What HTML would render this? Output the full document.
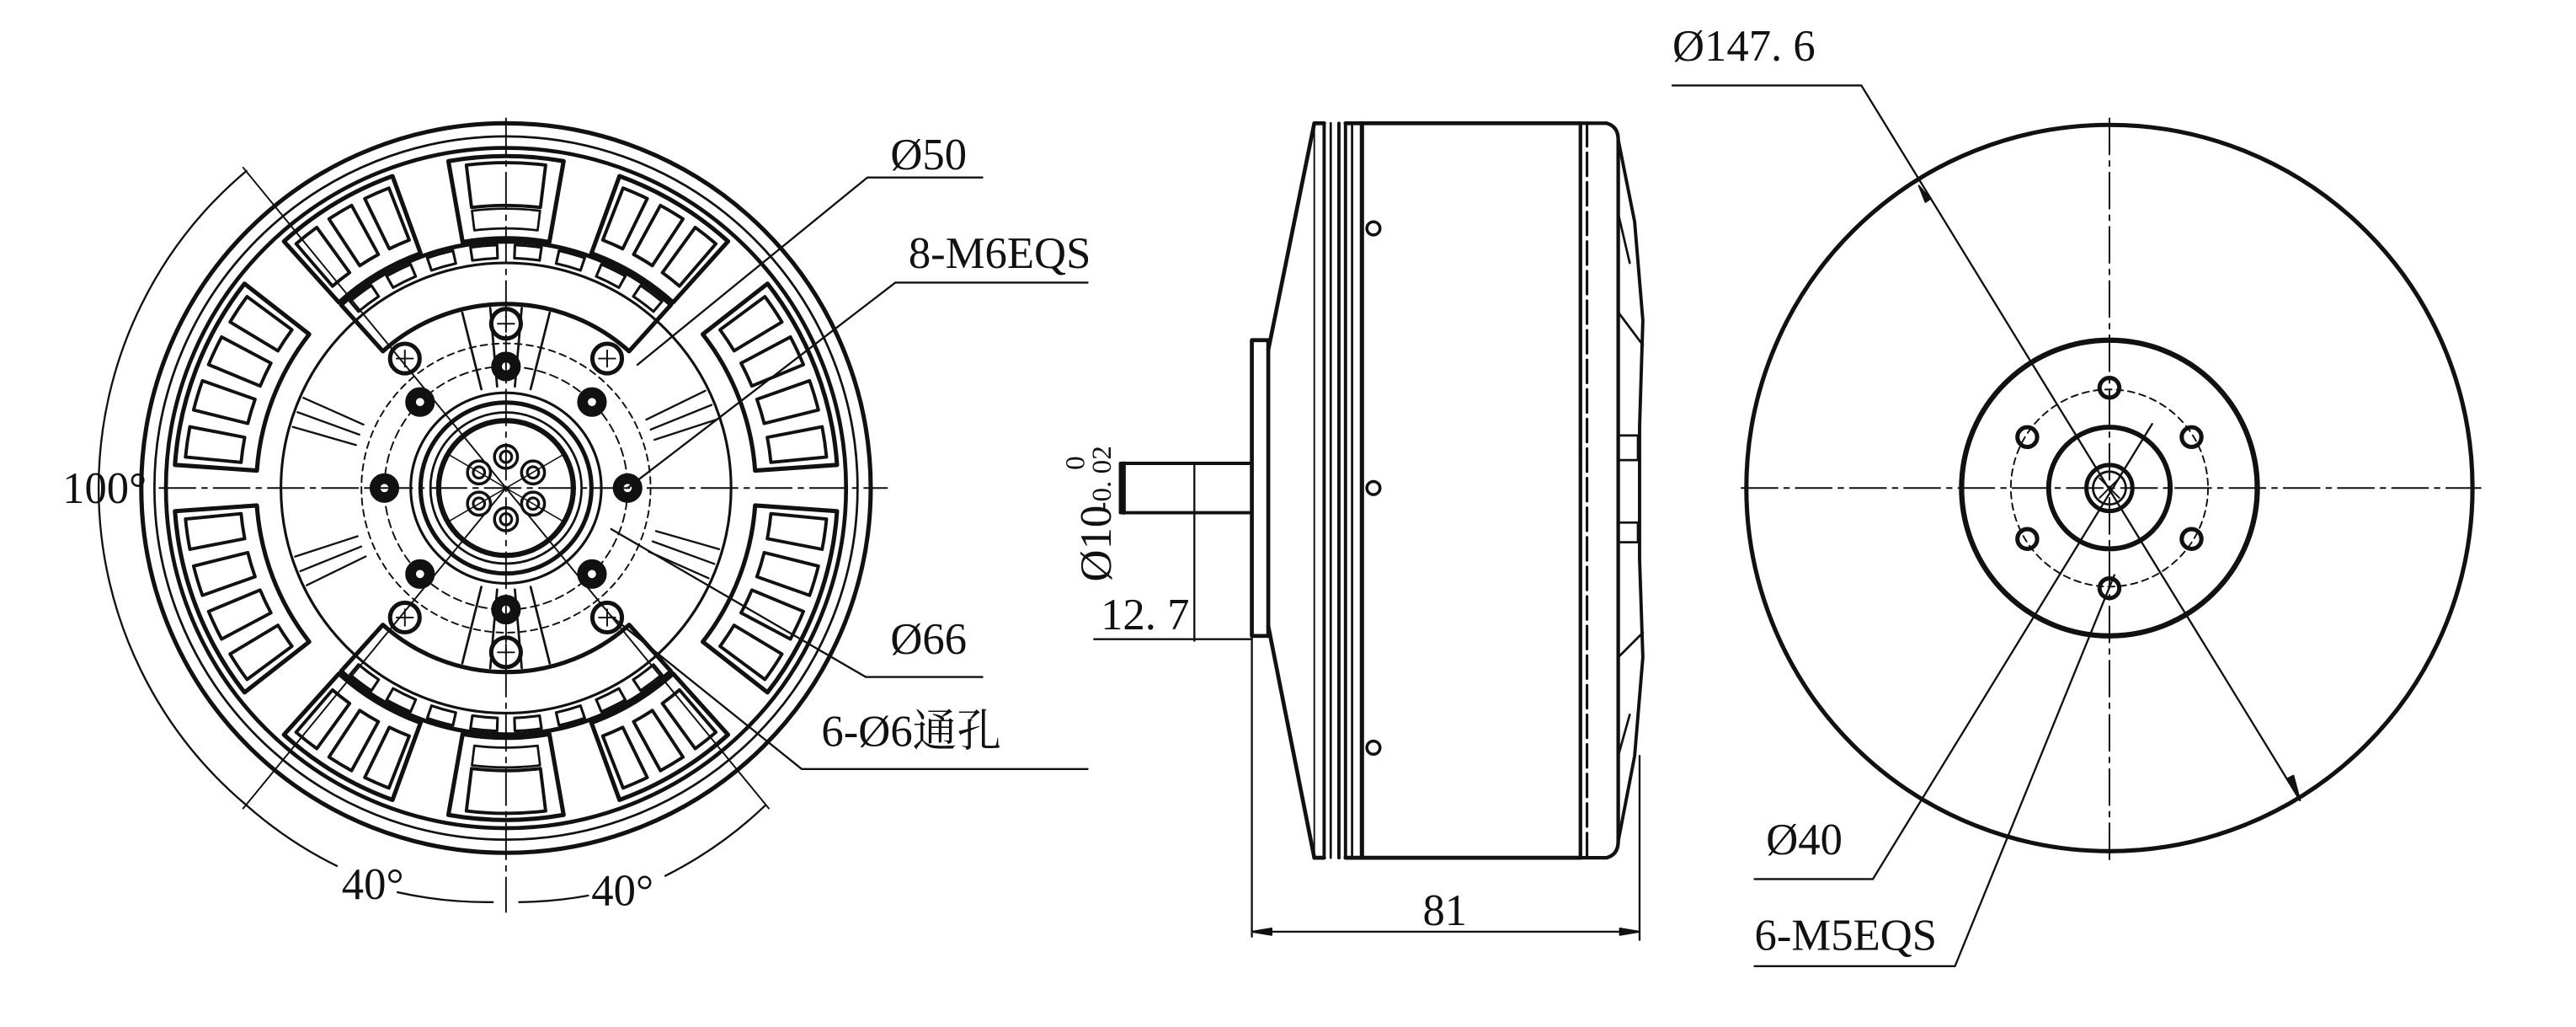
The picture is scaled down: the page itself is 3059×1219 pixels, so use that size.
<!DOCTYPE html>
<html><head><meta charset="utf-8"><style>
html,body{margin:0;padding:0;background:#fff}
svg{display:block}
text{font-family:"Liberation Serif","Noto Serif CJK SC","Noto Sans CJK SC",serif;fill:#111}
</style></head><body>
<svg id="s" width="3059" height="1219" viewBox="0 0 1568 625" preserveAspectRatio="none" xmlns="http://www.w3.org/2000/svg">
<g fill="none" stroke="#111" stroke-linecap="round" stroke-linejoin="round">
<!-- LEFT VIEW -->
<circle cx="308" cy="297" r="222" stroke-width="2.6"/>
<circle cx="308" cy="297" r="214" stroke-width="1.4"/>
<circle cx="308" cy="297" r="207" stroke-width="2.4"/>
<circle cx="308" cy="297" r="137" stroke-width="1.6"/>
<circle cx="308" cy="297" r="88" stroke-width="1" stroke-dasharray="4 3"/>
<circle cx="308" cy="297" r="74" stroke-width="1" stroke-dasharray="5 3"/>
<g id="lv"></g>
<!-- hub -->
<circle cx="308" cy="297" r="58" stroke-width="1.6"/>
<circle cx="308" cy="297" r="52" stroke-width="2.6"/>
<circle cx="308" cy="297" r="46" stroke-width="1.4"/>
<circle cx="308" cy="297" r="41" stroke-width="3.2"/>
<line x1="272" y1="276" x2="344" y2="318" stroke-width="0.8"/>
<line x1="272" y1="318" x2="344" y2="276" stroke-width="0.8"/>
<!-- centerlines -->
<line x1="97" y1="297" x2="540" y2="297" stroke-width="1" stroke-dasharray="22 4 3 4"/>
<line x1="308" y1="72" x2="308" y2="555" stroke-width="1" stroke-dasharray="22 4 3 4"/>
<!-- angle dims -->
<line x1="308" y1="297" x2="148" y2="102" stroke-width="1"/>
<line x1="308" y1="297" x2="148" y2="492" stroke-width="1"/>
<line x1="308" y1="297" x2="468" y2="492" stroke-width="1"/>
<path d="M150,104 A252,252 0 0 0 150,490" stroke-width="1.2"/>
<path d="M150,490 A252,252 0 0 0 205,527" stroke-width="1.2"/>
<path d="M242,543 A252,252 0 0 0 300,549" stroke-width="1.2"/>
<path d="M316,549 A252,252 0 0 0 358,545" stroke-width="1.2"/>
<path d="M405,533 A252,252 0 0 0 466,490" stroke-width="1.2"/>
<!-- leaders -->
<polyline points="388,222 528,108 598,108" stroke-width="1.2"/>
<polyline points="382,297 545,172 662,172" stroke-width="1.2"/>
<polyline points="372,322 527,412 598,412" stroke-width="1.2"/>
<polyline points="372,375 488,468 662,468" stroke-width="1.2"/>

<!-- SIDE VIEW -->
<rect x="682" y="282" width="80" height="30" stroke-width="2"/>
<line x1="727" y1="282" x2="727" y2="390" stroke-width="1.2"/>
<line x1="666" y1="389" x2="762" y2="389" stroke-width="1.2"/>
<line x1="684" y1="282" x2="684" y2="312" stroke-width="2.5"/>
<rect x="762" y="207" width="10" height="180" stroke-width="2.4"/>
<line x1="762" y1="387" x2="762" y2="570" stroke-width="1.2"/>
<polyline points="772,213 800,75 806,75" stroke-width="2.4"/>
<polyline points="772,381 800,522 806,522" stroke-width="2.4"/>
<line x1="800" y1="75" x2="800" y2="522" stroke-width="1"/>
<line x1="806" y1="75" x2="806" y2="522" stroke-width="2"/>
<line x1="810" y1="75" x2="810" y2="522" stroke-width="1.4"/>
<line x1="815" y1="75" x2="815" y2="522" stroke-width="2"/>
<line x1="819" y1="75" x2="819" y2="522" stroke-width="2"/>
<line x1="823" y1="75" x2="823" y2="522" stroke-width="1.4"/>
<line x1="829" y1="75" x2="829" y2="522" stroke-width="2.6"/>
<line x1="819" y1="75" x2="962" y2="75" stroke-width="2.4"/>
<line x1="819" y1="522" x2="962" y2="522" stroke-width="2.4"/>
<line x1="962" y1="75" x2="962" y2="522" stroke-width="2.2"/>
<line x1="966" y1="75" x2="966" y2="522" stroke-width="1.6" stroke-dasharray="14 4"/>
<path d="M962,75 L978,75 Q985,77 985,85 L985,512 Q985,520 978,522 L962,522" stroke-width="2.2"/>
<path d="M985,85 L995,135 L1000,195 L998,260 L998,340 L1000,400 L995,460 L985,512" stroke-width="2"/>
<path d="M985,130 L992,160 M985,190 L1000,210 M985,265 L997,265 L997,280 L985,280 M985,318 L997,318 L997,330 L985,330 M985,400 L1000,385 M985,460 L992,435" stroke-width="1.4"/>
<g fill="#fff" stroke-width="1.8"><circle cx="836" cy="139" r="4"/><circle cx="836" cy="297" r="4"/><circle cx="836" cy="455" r="4"/></g>
<line x1="762" y1="567" x2="998" y2="567" stroke-width="1.2"/>
<line x1="998" y1="460" x2="998" y2="572" stroke-width="1.2"/>
<polygon points="762,567 774,565 774,569" fill="#111" stroke-width="1"/>
<polygon points="998,567 986,565 986,569" fill="#111" stroke-width="1"/>

<!-- RIGHT VIEW -->
<circle cx="1284" cy="297" r="221" stroke-width="2.6"/>
<circle cx="1284" cy="297" r="90" stroke-width="3.2"/>
<circle cx="1284" cy="297" r="37" stroke-width="3"/>
<circle cx="1284" cy="297" r="60" stroke-width="1" stroke-dasharray="4 3"/>
<circle cx="1284" cy="297" r="14" stroke-width="2.6"/>
<circle cx="1284" cy="297" r="10" stroke-width="1.4"/>
<line x1="1278" y1="291" x2="1290" y2="303" stroke-width="1"/>
<line x1="1278" y1="303" x2="1290" y2="291" stroke-width="1"/>
<g stroke-width="2.6"><circle cx="1284" cy="236" r="6"/><circle cx="1334" cy="266" r="6"/><circle cx="1334" cy="328" r="6"/><circle cx="1284" cy="358" r="6"/><circle cx="1234" cy="328" r="6"/><circle cx="1234" cy="266" r="6"/></g>
<line x1="1060" y1="297" x2="1510" y2="297" stroke-width="1" stroke-dasharray="22 4 3 4"/>
<line x1="1284" y1="72" x2="1284" y2="525" stroke-width="1" stroke-dasharray="22 4 3 4"/>
<polyline points="1018,52 1133,52 1400,487" stroke-width="1.2"/>
<polygon points="1400,487 1392,474 1396,472" fill="#111" stroke-width="1"/>
<polygon points="1168,113 1172,123 1175,121" fill="#111" stroke-width="1"/>
<polyline points="1068,535 1140,535 1310,258" stroke-width="1.2"/>
<polyline points="1068,588 1190,588 1287,350" stroke-width="1.2"/>
</g>
<g font-size="27">
<text x="542" y="103">Ø50</text>
<text x="553" y="163">8-M6EQS</text>
<text x="542" y="398">Ø66</text>
<text x="500" y="454">6-Ø6通孔</text>
<text x="38" y="306">100°</text>
<text x="208" y="547">40°</text>
<text x="360" y="551">40°</text>
<text x="866" y="563">81</text>
<text x="670" y="383">12. 7</text>
<text x="1018" y="37">Ø147. 6</text>
<text x="1075" y="520">Ø40</text>
<text x="1068" y="578">6-M5EQS</text>
<text transform="translate(676,354) rotate(-90)">Ø10</text>
<text transform="translate(676,311) rotate(-90)" font-size="17">-0. 02</text>
<text transform="translate(660,286) rotate(-90)" font-size="17">0</text>
</g>
</svg>
<script>
(function(){
var g=document.getElementById('lv'),cx=308,cy=297,NS='http://www.w3.org/2000/svg';
function P(r,a){a=a*Math.PI/180;return [cx+r*Math.cos(a),cy+r*Math.sin(a)];}
function add(d,w,f){var p=document.createElementNS(NS,'path');p.setAttribute('d',d);p.setAttribute('stroke-width',w);p.setAttribute('fill',f||'none');p.setAttribute('stroke','#111');g.appendChild(p);}
function sector(r1,r2,a1,a2){var A=P(r2,a1),B=P(r2,a2),C=P(r1,a2),D=P(r1,a1);var lg=(a2-a1)>180?1:0;
return 'M'+A+' A'+r2+','+r2+' 0 '+lg+' 1 '+B+' L'+C+' A'+r1+','+r1+' 0 '+lg+' 0 '+D+' Z';}
function slot(r1,r2,a,hw){var a1=a-hw,a2=a+hw;return sector(r1,r2,a1,a2);}
var groups=[[-100,-80,1],[-70,-48,3],[-38,-4,4],[4,38,4],[48,70,3],[80,100,1],[110,132,3],[142,176,4],[184,218,4],[228,250,3]];
groups.forEach(function(gr){
 add(sector(152,202,gr[0],gr[1]),2.6);
 var n=gr[2],step=(gr[1]-gr[0])/n;
 for(var i=0;i<n;i++){var a=gr[0]+step*(i+0.5);
  if(n==1){add(slot(172,198,a,7),2);add(slot(158,170,a,7),1.4);}
  else add(slot(162,196,a,step*0.32),2);}
});
[[-132,-48],[48,132]].forEach(function(s){
 add(sector(112,150,s[0],s[1]),2.6);
 var n=8,st=(s[1]-s[0])/n;
 for(var i=0;i<n;i++){add(slot(140,148,s[0]+st*(i+0.5),st*0.3),1.6);}
 [-14,-5,5,14].forEach(function(o){var a=(s[0]+s[1])/2+o;var A=P(62,a),B=P(110,a);add('M'+A+' L'+B,1.4);});
});
[[150,168],[192,210],[-30,-12],[12,30]].forEach(function(s){
 [0,4,8].forEach(function(o){var A=P(95,s[0]+o+4),B=P(135,s[0]+o+4);add('M'+A+' L'+B,1.2);});
});
[-90,-128,-52,90,128,52].forEach(function(a){var p=P(100,a);
 add('M'+(p[0]-9)+','+p[1]+' a9,9 0 1,0 18,0 a9,9 0 1,0 -18,0',2.6,'#fff');
 add('M'+(p[0]-5)+','+p[1]+' L'+(p[0]+5)+','+p[1]+' M'+p[0]+','+(p[1]-5)+' L'+p[0]+','+(p[1]+5),1);});
for(var k=0;k<8;k++){var p=P(74,k*45);
 add('M'+(p[0]-8)+','+p[1]+' a8,8 0 1,0 16,0 a8,8 0 1,0 -16,0',2,'#111');
 add('M'+(p[0]-3)+','+p[1]+' a3,3 0 1,0 6,0 a3,3 0 1,0 -6,0',1,'#fff');}
for(var j=0;j<6;j++){var p=P(19,j*60+30);
 add('M'+(p[0]-7)+','+p[1]+' a7,7 0 1,0 14,0 a7,7 0 1,0 -14,0',1.8,'#fff');
 add('M'+(p[0]-3.5)+','+p[1]+' a3.5,3.5 0 1,0 7,0 a3.5,3.5 0 1,0 -7,0',1.6);}
})();
</script>
</body></html>
